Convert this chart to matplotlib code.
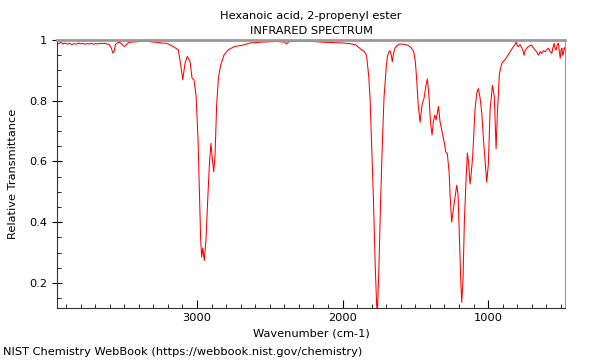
import matplotlib
matplotlib.use("Agg")
from matplotlib import pyplot as plt
from matplotlib.ticker import MultipleLocator, FuncFormatter

title = "Hexanoic acid, 2-propenyl ester\nINFRARED SPECTRUM"
footer = "NIST Chemistry WebBook (https://webbook.nist.gov/chemistry)"

# wavenumber (cm-1)
wn = [3962, 3950, 3935, 3920, 3905, 3890, 3875, 3860, 3845, 3830, 3815, 3800,
      3785, 3770, 3755, 3740, 3725, 3710, 3695, 3680, 3665, 3650, 3635, 3620,
      3605, 3590, 3578, 3570, 3560, 3545, 3530, 3520, 3505, 3495, 3485, 3470,
      3450, 3420, 3390, 3360, 3330, 3300, 3270, 3240, 3210, 3190, 3170, 3150,
      3129, 3112, 3098, 3082, 3067, 3048, 3034, 3021, 3007, 2993, 2984, 2975,
      2968, 2961, 2950, 2938, 2926, 2915, 2904, 2895, 2885, 2876, 2865, 2853,
      2837, 2814, 2785, 2739, 2693, 2636, 2600, 2550, 2500, 2450, 2400, 2384,
      2370, 2340, 2300, 2250, 2200, 2150, 2100, 2050, 2000, 1950, 1910, 1890,
      1880, 1865, 1855, 1840, 1834, 1820, 1811, 1800, 1788, 1775, 1765, 1760,
      1750, 1738, 1725, 1715, 1700, 1692, 1680, 1674, 1665, 1658, 1650, 1640,
      1625, 1605, 1570, 1548, 1530, 1515, 1509, 1500, 1491, 1480, 1467, 1454,
      1440, 1426, 1417, 1405, 1396, 1385, 1376, 1366, 1357, 1341, 1330, 1316,
      1302, 1291, 1280, 1268, 1261, 1250, 1238, 1225, 1215, 1206, 1197, 1188,
      1181, 1172, 1163, 1151, 1142, 1135, 1129, 1124, 1118, 1106, 1090, 1078,
      1067, 1055, 1043, 1028, 1009, 998, 986, 970, 957, 945, 936, 922,
      906, 876, 849, 826, 815, 807, 800, 792, 780, 768, 760, 753,
      745, 734, 720, 700, 690, 677, 665, 654, 642, 631, 620, 608,
      597, 585, 574, 562, 554, 546, 539, 532, 524, 516, 510, 504,
      498, 493, 487, 482, 476, 470]

# relative transmittance
tr = [0.990, 0.988, 0.992, 0.987, 0.990, 0.986, 0.989, 0.985, 0.988, 0.986, 0.990, 0.987,
      0.989, 0.986, 0.988, 0.987, 0.989, 0.986, 0.988, 0.987, 0.989, 0.988, 0.989, 0.987,
      0.986, 0.975, 0.957, 0.962, 0.985, 0.991, 0.992, 0.988, 0.980, 0.979, 0.985, 0.991,
      0.993, 0.994, 0.995, 0.996, 0.995, 0.993, 0.992, 0.990, 0.989, 0.985, 0.980, 0.974,
      0.968, 0.918, 0.869, 0.924, 0.946, 0.930, 0.874, 0.869, 0.820, 0.676, 0.510, 0.345,
      0.285, 0.315, 0.274, 0.345, 0.478, 0.588, 0.660, 0.610, 0.566, 0.621, 0.786, 0.874,
      0.918, 0.951, 0.968, 0.979, 0.982, 0.990, 0.991, 0.993, 0.994, 0.995, 0.993, 0.987,
      0.994, 0.996, 0.996, 0.995, 0.995, 0.993, 0.992, 0.991, 0.990, 0.988, 0.984, 0.976,
      0.972, 0.966, 0.964, 0.955, 0.945, 0.880, 0.810, 0.650, 0.480, 0.250, 0.120, 0.112,
      0.250, 0.480, 0.680, 0.810, 0.910, 0.945, 0.962, 0.965, 0.950, 0.928, 0.955, 0.973,
      0.982, 0.987, 0.985, 0.982, 0.975, 0.965, 0.957, 0.930, 0.874, 0.786, 0.729, 0.786,
      0.808, 0.852, 0.872, 0.808, 0.731, 0.687, 0.731, 0.753, 0.737, 0.781, 0.731, 0.698,
      0.665, 0.632, 0.626, 0.566, 0.489, 0.400, 0.445, 0.489, 0.522, 0.489, 0.345, 0.213,
      0.136, 0.213, 0.400, 0.544, 0.628, 0.600, 0.560, 0.526, 0.550, 0.614, 0.769, 0.825,
      0.840, 0.810, 0.758, 0.647, 0.532, 0.592, 0.769, 0.851, 0.813, 0.642, 0.758, 0.890,
      0.923, 0.940, 0.961, 0.978, 0.985, 0.993, 0.982, 0.978, 0.985, 0.973, 0.965, 0.950,
      0.965, 0.973, 0.980, 0.983, 0.975, 0.967, 0.960, 0.950, 0.962, 0.956, 0.965, 0.961,
      0.968, 0.973, 0.962, 0.956, 0.975, 0.989, 0.970, 0.967, 0.985, 0.989, 0.960, 0.940,
      0.968, 0.973, 0.950, 0.956, 0.975, 0.967]

fs = 8.2

fig = plt.figure(figsize=(6, 3.6), dpi=100)
ax = fig.add_axes([0.095, 0.144, 0.847, 0.745])

ax.plot(wn, tr, '-', color='red', linewidth=0.75)

ax.set_xlim(3962, 470)
ax.set_ylim(0.117, 1.0)

ax.xaxis.set_major_locator(MultipleLocator(1000))
ax.xaxis.set_minor_locator(MultipleLocator(100))
ax.yaxis.set_major_locator(MultipleLocator(0.2))
ax.yaxis.set_minor_locator(MultipleLocator(0.05))
ax.yaxis.set_major_formatter(FuncFormatter(lambda v, p: '%g' % round(v, 2)))

ax.tick_params(axis='x', which='major', direction='in', length=6, labelsize=fs)
ax.tick_params(axis='x', which='minor', direction='in', length=3)
ax.tick_params(axis='y', which='major', direction='inout', length=7, labelsize=fs)
ax.tick_params(axis='y', which='minor', direction='in', length=3)

for side in ['top', 'right']:
    ax.spines[side].set_color('#999999')
ax.spines['top'].set_linewidth(2)
for side in ['left', 'bottom']:
    ax.spines[side].set_color('#333333')

ax.set_xlabel("Wavenumber (cm-1)", fontsize=fs, labelpad=4)
ax.set_ylabel("Relative Transmittance", fontsize=fs, labelpad=8)
ax.set_title(title, fontsize=fs, linespacing=1.65, pad=4)

fig.text(0.005, 0.015, footer, fontsize=fs)

fig.savefig("out.png")
